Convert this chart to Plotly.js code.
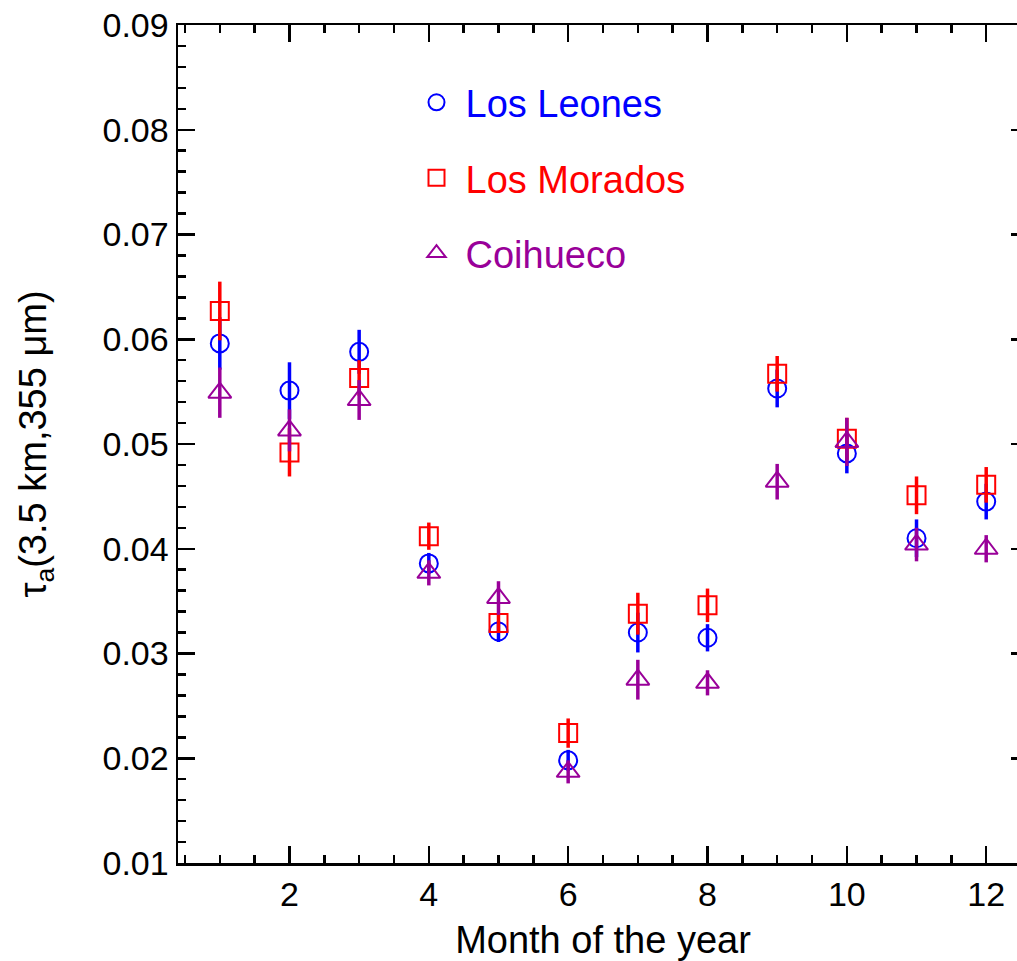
<!DOCTYPE html>
<html>
<head>
<meta charset="utf-8">
<script src="https://cdn.plot.ly/plotly-3.0.1.min.js"></script>
<style>
html, body { margin: 0; padding: 0; overflow: hidden; background: #fff; }
#chart { width: 1031px; height: 961px; }
</style>
</head>
<body>
<div id="chart"></div>
<script>
const months = [1, 2, 3, 4, 5, 6, 7, 8, 9, 10, 11, 12];

const leones    = [0.0596, 0.0551, 0.0588, 0.0386, 0.0321, 0.0198, 0.0320, 0.0315, 0.0553, 0.0491, 0.0410, 0.0445];
const leonesErr = [0.0025, 0.0027, 0.0021, 0.0010, 0.0010, 0.0010, 0.0019, 0.0013, 0.0018, 0.0019, 0.0018, 0.0017];

const morados    = [0.0627, 0.0492, 0.0563, 0.0412, 0.0329, 0.0224, 0.0338, 0.0346, 0.0567, 0.0505, 0.0451, 0.0461];
const moradosErr = [0.0028, 0.0023, 0.0017, 0.0013, 0.0008, 0.0014, 0.0020, 0.0016, 0.0017, 0.0020, 0.0018, 0.0017];

const coihueco    = [0.0549, 0.0513, 0.0542, 0.0377, 0.0353, 0.0187, 0.0275, 0.0272, 0.0464, 0.0502, 0.0404, 0.0400];
const coihuecoErr = [0.0024, 0.0020, 0.0019, 0.0012, 0.0016, 0.0011, 0.0019, 0.0012, 0.0017, 0.0023, 0.0016, 0.0013];

const seriesNames = ['Los Leones', 'Los Morados', 'Coihueco'];
const colors = ['#0000ff', '#ff0000', '#990099'];
const symbols = ['circle-open', 'square-open', 'triangle-up-open'];
const sizes = [18, 18, 20];
const values = [leones, morados, coihueco];
const errors = [leonesErr, moradosErr, coihuecoErr];

const FONT = 'Liberation Sans, Arial, Helvetica, sans-serif';

const traces = seriesNames.map((name, i) => ({
  type: 'scatter',
  mode: 'markers',
  x: months,
  y: values[i],
  name: '<span style="color:' + colors[i] + '">' + name + '</span>',
  legendgroup: 'g' + i,
  marker: { symbol: symbols[i], size: sizes[i], color: colors[i], line: { color: colors[i], width: 2 } },
  error_y: { type: 'data', array: errors[i], visible: true, color: colors[i], thickness: 3.5, width: 0 }
}));

const axisCommon = {
  showline: true, linecolor: '#000', linewidth: 2.5, mirror: 'allticks',
  ticks: 'inside', ticklen: 17, tickwidth: 2.5, tickcolor: '#000',
  showgrid: false, zeroline: false,
  tickfont: { family: FONT, size: 34, color: '#000' }
};

const layout = {
  width: 1031, height: 961,
  margin: { l: 178, r: 3, t: 25, b: 98 },
  paper_bgcolor: '#fff', plot_bgcolor: '#fff',
  font: { family: FONT, color: '#000' },
  showlegend: true,
  legend: {
    x: 0.27, y: 0.945, xanchor: 'left', yanchor: 'top',
    bgcolor: 'rgba(0,0,0,0)', borderwidth: 0,
    font: { family: FONT, size: 38 },
    tracegroupgap: 23, itemwidth: 48
  },
  xaxis: Object.assign({}, axisCommon, {
    range: [0.4, 12.6], tick0: 0, dtick: 2,
    minor: { dtick: 0.5, ticks: 'inside', ticklen: 8, tickwidth: 2.5, tickcolor: '#000' },
    title: { text: 'Month of the year', font: { family: FONT, size: 38, color: '#000' }, standoff: 16 }
  }),
  yaxis: Object.assign({}, axisCommon, {
    range: [0.01, 0.09], tick0: 0, dtick: 0.01, tickformat: '.2f',
    minor: { dtick: 0.002, ticks: 'inside', ticklen: 8, tickwidth: 2.5, tickcolor: '#000' },
    title: { text: 'τ<sub>a</sub>(3.5 km,355 μm)', font: { family: FONT, size: 38, color: '#000' }, standoff: 44 }
  })
};

Plotly.newPlot('chart', traces, layout, { displayModeBar: false, staticPlot: true });
</script>
</body>
</html>
